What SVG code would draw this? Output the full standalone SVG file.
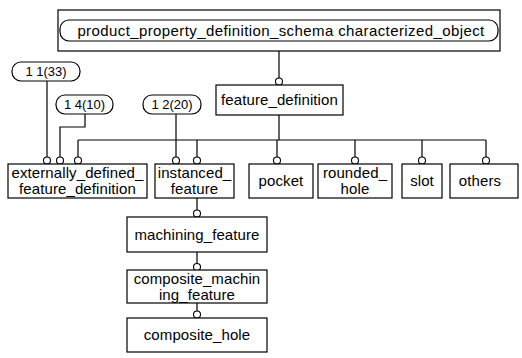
<svg xmlns="http://www.w3.org/2000/svg" width="522" height="358" viewBox="0 0 522 358">
  <style>
    .box { fill: #fff; stroke: #000; stroke-width: 1.2; }
    .ln { fill: none; stroke: #000; stroke-width: 1.2; }
    .dot { fill: #fff; stroke: #000; stroke-width: 1.1; }
    text { font-family: "Liberation Sans", Arial, sans-serif; font-size: 15px; letter-spacing: 0.1px; fill: #000; text-anchor: middle; }
    .title { letter-spacing: 0.4px; }
    .ref { font-size: 13px; letter-spacing: 0; }
  </style>

  <!-- connectors -->
  <g id="connectors">
    <path class="ln" d="M279 51 V78"/>
    <path class="ln" d="M279 115 V140 M78 140 H486"/>
    <path class="ln" d="M78 140 V157 M197 140 V157 M277 140 V157 M355 140 V157 M422 140 V157 M486 140 V157"/>
    <path class="ln" d="M47 81 V157"/>
    <path class="ln" d="M85 114 V127 H60 V157"/>
    <path class="ln" d="M176 114 V157"/>
    <path class="ln" d="M197 198 V210 M197 252 V264 M197 303 V311"/>
    <circle class="dot" cx="279" cy="81.5" r="3.5"/>
    <circle class="dot" cx="47" cy="160.5" r="3.5"/>
    <circle class="dot" cx="60" cy="160.5" r="3.5"/>
    <circle class="dot" cx="78" cy="160.5" r="3.5"/>
    <circle class="dot" cx="176" cy="160.5" r="3.5"/>
    <circle class="dot" cx="197" cy="160.5" r="3.5"/>
    <circle class="dot" cx="277" cy="160.5" r="3.5"/>
    <circle class="dot" cx="355" cy="160.5" r="3.5"/>
    <circle class="dot" cx="422" cy="160.5" r="3.5"/>
    <circle class="dot" cx="486" cy="160.5" r="3.5"/>
    <circle class="dot" cx="197" cy="213.5" r="3.5"/>
    <circle class="dot" cx="197" cy="267" r="3.5"/>
    <circle class="dot" cx="197" cy="314.5" r="3.5"/>
  </g>

  <g id="characterized_object">
    <rect class="box" x="58" y="10" width="442" height="41"/>
    <rect class="box" x="60" y="20" width="438" height="21" rx="9"/>
    <text class="title" x="281" y="36">product_property_definition_schema characterized_object</text>
  </g>

  <g id="ref_1_1">
    <rect class="box" x="12" y="62" width="68" height="19" rx="9"/>
    <text class="ref" x="46" y="76">1 1(33)</text>
  </g>
  <g id="ref_1_4">
    <rect class="box" x="56" y="95" width="57" height="19" rx="9"/>
    <text class="ref" x="84.5" y="109">1 4(10)</text>
  </g>
  <g id="ref_1_2">
    <rect class="box" x="143" y="95" width="58" height="19" rx="9"/>
    <text class="ref" x="172" y="109">1 2(20)</text>
  </g>

  <g id="feature_definition">
    <rect class="box" x="216" y="85" width="127" height="30"/>
    <text x="279.5" y="105">feature_definition</text>
  </g>

  <g id="externally_defined_feature_definition">
    <rect class="box" x="8" y="164" width="139" height="34"/>
    <text x="77.5" y="178">externally_defined_</text>
    <text x="77.5" y="194">feature_definition</text>
  </g>
  <g id="instanced_feature">
    <rect class="box" x="155" y="164" width="79" height="34"/>
    <text x="194.5" y="178">instanced_</text>
    <text x="194.5" y="194">feature</text>
  </g>
  <g id="pocket">
    <rect class="box" x="249" y="164" width="64" height="34"/>
    <text x="281" y="186">pocket</text>
  </g>
  <g id="rounded_hole">
    <rect class="box" x="318" y="164" width="74" height="34"/>
    <text x="355" y="178">rounded_</text>
    <text x="355" y="194">hole</text>
  </g>
  <g id="slot">
    <rect class="box" x="402" y="164" width="40" height="34"/>
    <text x="422" y="186">slot</text>
  </g>
  <g id="others">
    <rect class="box" x="450" y="164" width="68" height="34"/>
    <text x="480" y="186">others</text>
  </g>

  <g id="machining_feature">
    <rect class="box" x="127" y="217" width="140" height="35"/>
    <text x="197" y="239.5">machining_feature</text>
  </g>
  <g id="composite_machining_feature">
    <rect class="box" x="127" y="270" width="140" height="33"/>
    <text x="197" y="284">composite_machin</text>
    <text x="197" y="300">ing_feature</text>
  </g>
  <g id="composite_hole">
    <rect class="box" x="127" y="318" width="140" height="34"/>
    <text x="197" y="340">composite_hole</text>
  </g>
</svg>
